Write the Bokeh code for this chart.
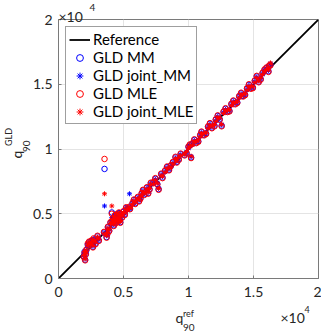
import math
from bokeh.plotting import figure
from bokeh.models import Range1d, FixedTicker, Legend, LegendItem
from bokeh.core.properties import value
from bokeh.embed import file_html
from bokeh.resources import INLINE

# ---------------- data ----------------
q_ref = [1950, 2000, 2050, 2100, 2150, 2350, 2450, 2550, 2700, 2850, 3000,
         3500, 3540, 3700, 3800, 3900, 4000, 4100, 4150, 4200, 4250, 4300,
         4350, 4400, 4450, 4500, 4550, 4600, 4700, 4800, 4900, 5000, 5100,
         5300, 5460, 5500, 5700, 5900, 6100, 6300, 6400, 6600, 6800, 7000,
         7300, 7600, 7700, 7900, 8200, 8500, 8800, 9100, 9400, 9700, 10000,
         10200, 10300, 10600, 10900, 11200, 11500, 11800, 12100, 12400, 12550,
         12700, 13000, 13300, 13600, 13900, 14200, 14500, 14800, 15100, 15400,
         15700, 16000, 16300,
         2250, 2650, 3100, 3750, 4650, 4750, 5200, 5800, 6200, 6500, 6900,
         7100, 7450, 8000, 8350, 8650, 9000, 9250, 9850, 10100, 10450, 10750,
         11000, 11350, 11650, 12000, 12250, 12850, 13150, 13450, 13750, 14050,
         14350, 14650, 14950, 15250, 15550, 15850, 16150, 16200]
q_mm = [1700, 2050, 1450, 1900, 2200, 2800, 2650, 2900, 3000, 2700, 3250,
        3550, 8460, 3200, 3950, 3700, 4300, 5100, 4400, 4600, 4100, 4500,
        4850, 4300, 4700, 4950, 4450, 4800, 4550, 4950, 4750, 5150, 4950,
        5350, 5500, 5400, 5800, 5800, 6250, 6200, 6550, 6500, 7000, 6900,
        7400, 7300, 6900, 8050, 8300, 8400, 8950, 9000, 9600, 9550, 10150,
        9350, 10400, 10500, 11050, 11100, 11700, 11650, 12250, 12300, 11800,
        12850, 12900, 13450, 13500, 14050, 14100, 14650, 14700, 15250, 15200,
        15850, 16250, 16500,
        2600, 2450, 2950, 3450, 5050, 4350, 5450, 6050, 6000, 6800, 6600,
        7350, 7700, 7800, 8600, 8700, 9350, 9200, 9700, 10300, 10700, 10600,
        11300, 11200, 11950, 11800, 12550, 13100, 12950, 13700, 13600, 14300,
        14200, 14950, 14750, 15600, 15400, 16100, 16000, 16400]
q_joint_mm = [1800, 2000, 1550, 2050, 2150, 2700, 2750, 2850, 3050, 2750, 3150,
              3500, 5600, 3300, 3850, 3800, 4200, 4700, 4300, 4700, 4150, 4450,
              4800, 4400, 4650, 5000, 4500, 4750, 4600, 4900, 4800, 5100, 5000,
              5300, 6540, 5450, 5750, 5850, 6200, 6250, 6500, 6550, 6950, 7000,
              7350, 7400, 7000, 8000, 8250, 8450, 8900, 9050, 9550, 9650, 10100,
              9400, 10350, 10550, 11000, 11150, 11650, 11700, 12200, 12350, 11850,
              12800, 12950, 13400, 13550, 14000, 14150, 14600, 14750, 15200, 15300,
              15800, 16200, 16600,
              2550, 2500, 3000, 3500, 4950, 4450, 5400, 6000, 6050, 6750, 6700,
              7300, 7650, 7850, 8550, 8650, 9300, 9250, 9750, 10250, 10650, 10650,
              11250, 11250, 11900, 11850, 12500, 13050, 13000, 13650, 13650, 14250,
              14250, 14900, 14800, 15550, 15450, 16050, 16050, 16350]
q_mle = [1650, 1950, 1400, 1850, 2250, 2850, 2600, 2950, 3100, 2650, 3300,
         3600, 9230, 3150, 4000, 3650, 4350, 5000, 4450, 4650, 4050, 4550,
         4900, 4250, 4750, 4900, 4400, 4850, 4500, 5000, 4700, 5200, 4900,
         5400, 5550, 5350, 5850, 5750, 6300, 6150, 6600, 6450, 7050, 6850,
         7450, 7250, 6850, 8100, 8350, 8350, 9000, 8950, 9650, 9500, 10200,
         9300, 10450, 10450, 11100, 11050, 11750, 11600, 12300, 12250, 11750,
         12900, 12850, 13500, 13450, 14100, 14050, 14700, 14650, 15300, 15150,
         15900, 16300, 16450,
         2700, 2400, 2900, 3400, 5100, 4300, 5500, 6100, 5950, 6850, 6550,
         7400, 7750, 7750, 8650, 8750, 9400, 9150, 9650, 10350, 10750, 10550,
         11350, 11150, 12000, 11750, 12600, 13150, 12900, 13750, 13550, 14350,
         14150, 15000, 14700, 15650, 15350, 16150, 15950, 16450]
q_joint_mle = [1750, 2100, 1500, 1950, 2200, 2750, 2700, 2900, 3000, 2800, 3200,
               3450, 6540, 3350, 3900, 3750, 4250, 5600, 4350, 4550, 4200, 4400,
               4750, 4350, 4600, 5050, 4550, 4700, 4650, 4850, 4850, 5100, 5050,
               5250, 5450, 5500, 5700, 5900, 6150, 6300, 6450, 6600, 6900, 6950,
               7300, 7350, 6950, 7950, 8200, 8500, 8850, 9100, 9500, 9600, 10050,
               9450, 10300, 10600, 10950, 11200, 11600, 11750, 12150, 12400, 11900,
               12750, 13000, 13350, 13600, 13950, 14200, 14550, 14800, 15150, 15250,
               15750, 16150, 16650,
               2600, 2550, 3050, 3550, 5000, 4400, 5350, 6000, 6100, 6700, 6650,
               7250, 7600, 7900, 8500, 8600, 9250, 9300, 9800, 10200, 10600, 10700,
               11200, 11300, 11850, 11900, 12450, 13000, 13050, 13600, 13700, 14200,
               14300, 14850, 14850, 15500, 15500, 16000, 16100, 16300]
ref_line = [0, 20000]
tick_values = [0, 5000, 10000, 15000, 20000]
tick_labels = ["0", "0.5", "1", "1.5", "2"]

FONT = "Lato"
TXT = "#262626"

p = figure(width=321, height=332, x_range=Range1d(0, 20000), y_range=Range1d(0, 20000),
           output_backend="svg", toolbar_location=None,
           min_border_left=58, min_border_right=3, min_border_top=19, min_border_bottom=54)
p.background_fill_color = "white"
p.border_fill_color = "white"
p.outline_line_color = "#7a7a7a"
p.outline_line_width = 1

for ax in (p.xaxis[0], p.yaxis[0]):
    ax.ticker = FixedTicker(ticks=tick_values)
    ax.major_label_overrides = {v: s for v, s in zip(tick_values, tick_labels)}
    ax.major_tick_in = 3
    ax.major_tick_out = 0
    ax.minor_tick_in = 0
    ax.minor_tick_out = 0
    ax.axis_line_color = "#7a7a7a"
    ax.major_tick_line_color = "#7a7a7a"
    ax.major_label_text_font = FONT
    ax.major_label_text_font_size = "14px"
    ax.major_label_text_color = TXT
p.xaxis.major_label_standoff = 8
p.yaxis.major_label_standoff = 6
p.grid.ticker = FixedTicker(ticks=tick_values)
p.grid.grid_line_color = "#e4e4e4"
p.grid.grid_line_width = 1

r_ref = p.line(ref_line, ref_line, line_color="black", line_width=1.8)
r_mm = p.scatter(q_ref, q_mm, marker="circle", size=5.5, fill_color=None,
                 line_color="#0000ff", line_width=1)
r_jmm = p.scatter(q_ref, q_joint_mm, marker="asterisk", size=5,
                  line_color="#0000ff", line_width=1)
r_mle = p.scatter(q_ref, q_mle, marker="circle", size=5.5, fill_color=None,
                  line_color="#ff0000", line_width=1)
r_jmle = p.scatter(q_ref, q_joint_mle, marker="asterisk", size=5,
                   line_color="#ff0000", line_width=1)

legend = Legend(items=[
    LegendItem(label="Reference", renderers=[r_ref]),
    LegendItem(label="GLD MM", renderers=[r_mm]),
    LegendItem(label="GLD joint_MM", renderers=[r_jmm]),
    LegendItem(label="GLD MLE", renderers=[r_mle]),
    LegendItem(label="GLD joint_MLE", renderers=[r_jmle]),
], location="top_left")
legend.label_text_font = FONT
legend.label_text_font_size = "15px"
legend.label_text_color = "black"
legend.border_line_color = "#404040"
legend.border_line_width = 1
legend.background_fill_color = "white"
legend.background_fill_alpha = 1
legend.padding = 3
legend.spacing = 0
legend.margin = 7
legend.label_height = 17
legend.glyph_height = 17
legend.glyph_width = 21
legend.label_standoff = 3
p.add_layout(legend)


def px(xp, yp):
    # picture pixel -> data coordinates (frame spans x 58..318, y 19..278)
    return (xp - 58) * 20000 / 260, (278 - yp) * 20000 / 259


def lab(xp, yp, text, size, angle=0.0):
    x, y = px(xp, yp)
    p.text(x=[x], y=[y], text=[text], text_font=value(FONT), text_font_size=value(size),
           text_color=TXT, angle=angle, text_align="left", text_baseline="alphabetic",
           level="overlay")


# x axis label q_90^ref
lab(175, 316.5, "q", "14px")
lab(182.5, 312.5, "ref", "9px")
lab(182.5, 326.5, "90", "10px")
# y axis label q_90^GLD (rotated)
A = math.pi / 2
lab(16, 158, "q", "14px", A)
lab(25.5, 151.5, "90", "10px", A)
lab(8, 145.5, "GLD", "9px", A)
# exponent labels
lab(280, 317, "\u00d710", "14px")
lab(304, 309, "4", "9px")
lab(58, 15.5, "\u00d710", "14px")
lab(89, 7, "4", "10px")

open("out.html", "w").write(file_html(p, INLINE))
